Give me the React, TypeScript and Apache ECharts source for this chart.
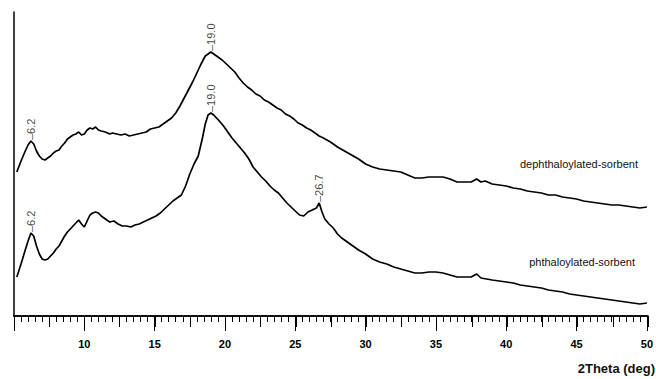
import React, { useEffect, useRef } from "react";
import * as echarts from "echarts";

const dephthaloylated: [number, number][] = [
  [5.2,144],[5.5,155],[5.8,165],[6.0,171],[6.2,175],[6.4,172],[6.6,165],[6.8,160],[7.0,157],[7.2,156],[7.4,158],[7.6,160],[7.8,163],[8.0,165],[8.2,166],[8.4,170],[8.6,173],[8.8,177],[9.0,179],[9.2,181],[9.4,182],[9.6,184],[9.8,181],[10.0,182],[10.2,186],[10.4,188],[10.6,187],[10.8,189],[11.0,186],[11.2,185],[11.5,184],[11.8,182],[12.0,183],[12.3,182],[12.6,181],[12.9,182],[13.2,180],[13.5,181],[13.8,182],[14.1,183],[14.4,184],[14.7,187],[15.0,188],[15.3,189],[15.6,192],[15.9,195],[16.2,198],[16.5,203],[16.8,210],[17.1,218],[17.4,226],[17.7,234],[18.0,243],[18.3,252],[18.6,260],[18.8,262],[19.0,264],[19.2,262],[19.5,259],[19.8,256],[20.1,252],[20.4,248],[20.7,244],[21.0,238],[21.3,233],[21.6,229],[21.9,226],[22.2,222],[22.5,220],[22.8,216],[23.1,214],[23.4,211],[23.7,208],[24.0,206],[24.3,202],[24.6,200],[24.9,197],[25.2,193],[25.5,191],[25.8,188],[26.1,186],[26.4,183],[26.7,180],[27.0,178],[27.5,174],[28.0,169],[28.5,165],[29.0,161],[29.5,157],[30.0,152],[30.5,149],[31.0,147],[31.5,146],[32.0,145],[32.5,144],[33.0,141],[33.5,138],[34.0,138],[34.5,139],[35.0,139],[35.5,139],[36.0,137],[36.5,134],[37.0,134],[37.5,134],[37.9,137],[38.2,134],[38.5,135],[39.0,132],[39.5,131],[40.0,130],[40.5,128],[41.0,127],[41.5,125],[42.0,124],[42.5,123],[43.0,121],[43.5,121],[44.0,119],[44.5,118],[45.0,117],[45.5,115],[46.0,114],[46.5,113],[47.0,112],[47.5,111],[48.0,111],[48.5,110],[49.0,109],[49.5,108],[50.0,109]
];

const phthaloylated: [number, number][] = [
  [5.2,39],[5.5,52],[5.8,66],[6.0,75],[6.2,83],[6.4,80],[6.6,70],[6.8,62],[7.0,57],[7.2,56],[7.4,57],[7.6,60],[7.8,63],[8.0,67],[8.2,70],[8.4,75],[8.6,80],[8.8,84],[9.0,87],[9.2,90],[9.4,93],[9.6,96],[9.8,92],[10.0,89],[10.2,95],[10.4,101],[10.6,103],[10.8,104],[11.0,103],[11.2,100],[11.5,97],[11.8,94],[12.1,95],[12.4,92],[12.7,90],[13.0,90],[13.3,89],[13.6,91],[13.9,92],[14.2,94],[14.5,96],[14.8,98],[15.1,100],[15.4,103],[15.7,107],[16.0,111],[16.3,115],[16.6,118],[16.9,121],[17.2,130],[17.5,142],[17.8,152],[18.1,160],[18.4,178],[18.6,192],[18.8,201],[19.0,203],[19.2,201],[19.4,198],[19.6,195],[19.9,190],[20.2,184],[20.5,178],[20.8,173],[21.1,168],[21.4,163],[21.7,157],[22.0,149],[22.3,144],[22.6,139],[22.9,135],[23.2,130],[23.5,126],[23.8,123],[24.1,118],[24.4,113],[24.7,109],[25.0,105],[25.3,101],[25.6,100],[25.9,104],[26.2,106],[26.5,108],[26.7,113],[26.9,104],[27.1,97],[27.4,92],[27.7,88],[28.0,82],[28.3,78],[28.6,75],[29.0,71],[29.5,66],[30.0,62],[30.5,57],[31.0,54],[31.5,52],[32.0,49],[32.5,47],[33.0,45],[33.5,43],[34.0,43],[34.5,44],[35.0,44],[35.5,43],[36.0,41],[36.5,39],[37.0,39],[37.5,39],[37.9,42],[38.2,38],[38.6,37],[39.0,36],[39.5,35],[40.0,34],[40.5,33],[41.0,31],[41.5,30],[42.0,29],[42.5,28],[43.0,26],[43.5,25],[44.0,24],[44.5,22],[45.0,21],[45.5,20],[46.0,19],[46.5,18],[47.0,17],[47.5,16],[48.0,15],[48.5,14],[49.0,13],[49.5,12],[50.0,13]
];

const dephPeaks: [number, number][] = [[6.2, 175], [19.0, 264]];
const phthPeaks: [number, number][] = [[6.2, 83], [19.0, 203], [26.7, 113]];

const seriesNames = ["dephthaloylated-sorbent", "phthaloylated-sorbent"];
const xTitle = "2Theta (deg)";

const FONT = "'Liberation Sans', Arial, sans-serif";

export default function App() {
  const ref = useRef<HTMLDivElement>(null);
  useEffect(() => {
    document.body.style.margin = "0";
    document.body.style.overflow = "hidden";
    if (!ref.current) return;
    const chart = echarts.init(ref.current, null, { renderer: "svg" });
    const peakLabel = {
      show: true,
      position: "top" as const,
      distance: 1,
      rotate: 90,
      align: "left" as const,
      verticalAlign: "middle" as const,
      formatter: (p: any) => "\u2013" + p.value[0].toFixed(1),
      fontSize: 11,
      fontFamily: FONT,
      color: "#111",
    };
    const gridBox = { left: 14, right: 8, top: 12, bottom: 63 };
    chart.setOption({
      animation: false,
      grid: [gridBox, { ...gridBox }],
      xAxis: [
        {
          type: "value",
          gridIndex: 0,
          min: 5,
          max: 50,
          interval: 5,
          axisLine: { show: true, lineStyle: { color: "#000", width: 1.5 } },
          axisTick: { show: true, length: 15, lineStyle: { color: "#000", width: 1 } },
          minorTick: { show: true, splitNumber: 10, length: 6, lineStyle: { color: "#000", width: 1 } },
          splitLine: { show: false },
          axisLabel: {
            showMinLabel: false,
            showMaxLabel: true,
            hideOverlap: false,
            margin: 22,
            fontSize: 11,
            fontWeight: "bold",
            fontFamily: FONT,
            color: "#000",
          },
        },
        {
          type: "value",
          gridIndex: 1,
          position: "bottom",
          min: 5,
          max: 50,
          interval: 2.5,
          axisLine: { show: true, lineStyle: { color: "#000", width: 1.5 } },
          axisTick: { show: true, length: 11, lineStyle: { color: "#000", width: 1 } },
          axisLabel: { show: false },
          splitLine: { show: false },
        },
      ],
      yAxis: [
        {
          type: "value",
          gridIndex: 0,
          min: 0,
          max: 304,
          axisLine: { show: true, lineStyle: { color: "#000", width: 1.5 } },
          axisTick: { show: false },
          axisLabel: { show: false },
          splitLine: { show: false },
        },
        {
          type: "value",
          gridIndex: 1,
          min: 0,
          max: 304,
          axisLine: { show: false },
          axisTick: { show: false },
          axisLabel: { show: false },
          splitLine: { show: false },
        },
      ],
      graphic: [
        {
          type: "text",
          right: 18,
          top: 158,
          style: { text: seriesNames[0], fontSize: 11, fontFamily: FONT, fill: "#111" },
        },
        {
          type: "text",
          right: 21,
          top: 256,
          style: { text: seriesNames[1], fontSize: 11, fontFamily: FONT, fill: "#111" },
        },
        {
          type: "text",
          right: 1,
          top: 362,
          style: { text: xTitle, fontSize: 13, fontWeight: "bold", fontFamily: FONT, fill: "#111" },
        },
      ],
      series: [
        {
          name: seriesNames[0],
          type: "line",
          data: dephthaloylated,
          showSymbol: false,
          lineStyle: { color: "#000", width: 1.7 },
        },
        {
          name: seriesNames[1],
          type: "line",
          data: phthaloylated,
          showSymbol: false,
          lineStyle: { color: "#000", width: 1.7 },
        },
        {
          type: "scatter",
          data: dephPeaks,
          symbolSize: 0,
          label: peakLabel,
        },
        {
          type: "scatter",
          data: phthPeaks,
          symbolSize: 0,
          label: peakLabel,
        },
        {
          type: "line",
          xAxisIndex: 1,
          yAxisIndex: 1,
          data: [],
        },
      ],
    });
    return () => chart.dispose();
  }, []);
  return <div ref={ref} style={{ width: 656, height: 379 }} />;
}
